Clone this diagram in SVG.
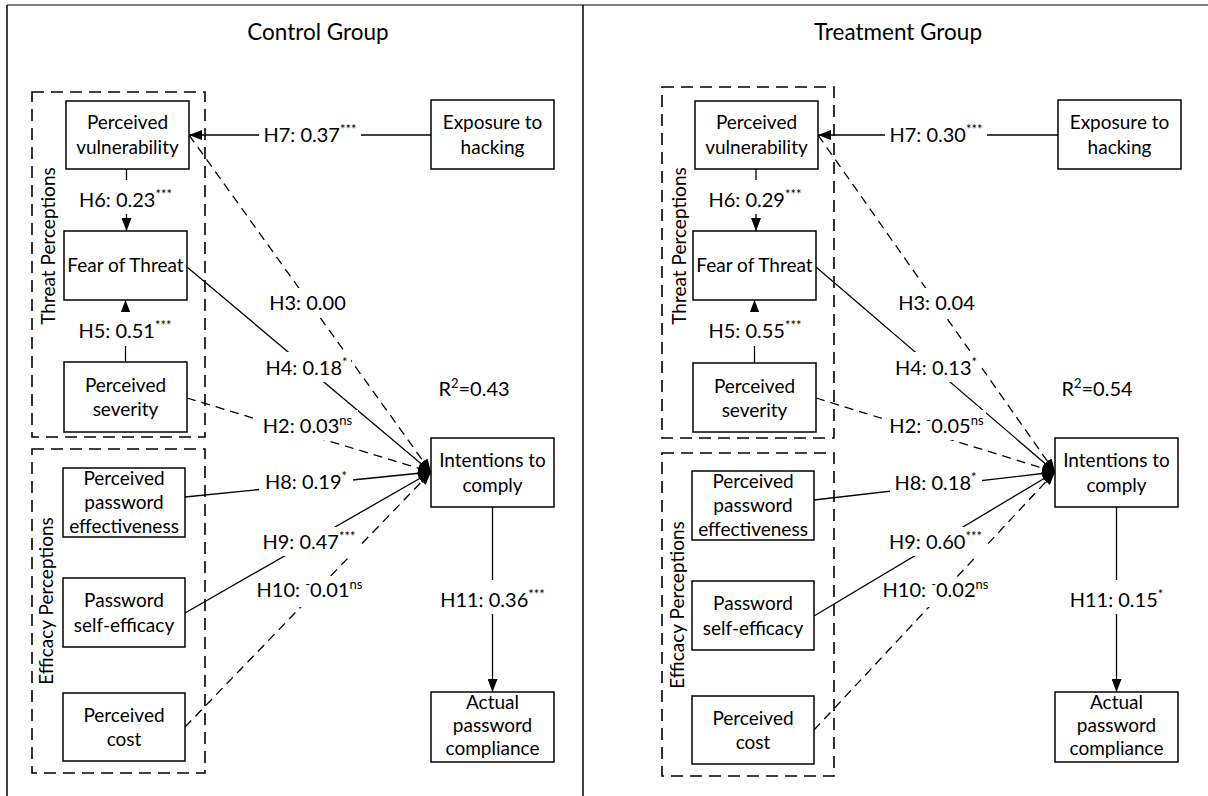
<svg xmlns="http://www.w3.org/2000/svg" width="1208" height="796" viewBox="0 0 1208 796">
<defs>
<style>
.box{fill:#fff;stroke:#000;stroke-width:1.5}
.grp{fill:none;stroke:#000;stroke-width:1.6;stroke-dasharray:12 7}
.t{font-family:Lato,"Liberation Sans",sans-serif;font-size:20px;fill:#000}
.n{font-size:19px}
.ttl{font-size:22.5px}
.c{text-anchor:middle}
.ln{stroke:#000;stroke-width:1.3;fill:none}
.dl{stroke-dasharray:9 6}
.bg{fill:#fff}
.sup{font-size:13px}
.frame{stroke:#000;stroke-width:1.5;fill:none}
</style>
<marker id="arr" viewBox="0 0 13 10" refX="13" refY="5" markerWidth="13" markerHeight="10" markerUnits="userSpaceOnUse" orient="auto">
<path d="M0,0 L13,5 L0,10 z" fill="#000"/>
</marker>
</defs>
<rect width="1208" height="796" fill="#fff"/>
<g id="frame">
<line x1="7" y1="5" x2="1208" y2="5" stroke="#808080" stroke-width="2"/>
<line class="frame" x1="7" y1="5" x2="7" y2="796"/>
<line class="frame" x1="583" y1="5" x2="583" y2="796"/>
<text class="t ttl c" x="318" y="40">Control Group</text>
<text class="t ttl c" x="898" y="40">Treatment Group</text>
</g>

<!-- LEFT PANEL -->
<g id="c-groups">
<rect class="grp" x="32" y="92" width="173" height="345"/>
<text class="t n c" transform="translate(55,246) rotate(-90)">Threat Perceptions</text>
<rect class="grp" x="32" y="449" width="173" height="324"/>
<text class="t n c" transform="translate(53,601) rotate(-90)">Efficacy Perceptions</text>
</g>
<g id="c-connectors">
<line class="ln" x1="431" y1="135" x2="189" y2="135" marker-end="url(#arr)"/>
<line class="ln" x1="126.5" y1="169" x2="126.5" y2="231" marker-end="url(#arr)"/>
<line class="ln" x1="125.5" y1="362" x2="125.5" y2="300" marker-end="url(#arr)"/>
<line class="ln dl" x1="189" y1="135" x2="431" y2="472" marker-end="url(#arr)"/>
<line class="ln" x1="187" y1="267" x2="431" y2="472" marker-end="url(#arr)"/>
<line class="ln dl" x1="187" y1="398" x2="431" y2="472" marker-end="url(#arr)"/>
<line class="ln" x1="185" y1="497" x2="431" y2="472" marker-end="url(#arr)"/>
<line class="ln" x1="185" y1="613" x2="431" y2="472" marker-end="url(#arr)"/>
<line class="ln dl" x1="185" y1="727" x2="431" y2="472" marker-end="url(#arr)"/>
<line class="ln" x1="492.5" y1="507" x2="492.5" y2="692" marker-end="url(#arr)"/>
</g>
<g id="c-labels">
<rect class="bg" x="259" y="122" width="102" height="26"/>
<text class="t c" x="310" y="142">H7: 0.37<tspan class="sup" dy="-8">***</tspan></text>
<rect class="bg" x="74" y="180" width="103" height="34"/>
<text class="t c" x="125.5" y="207">H6: 0.23<tspan class="sup" dy="-8">***</tspan></text>
<rect class="bg" x="74" y="312" width="103" height="34"/>
<text class="t c" x="125" y="338">H5: 0.51<tspan class="sup" dy="-8">***</tspan></text>
<rect class="bg" x="265" y="288" width="86" height="30"/>
<text class="t c" x="307.5" y="310">H3: 0.00</text>
<rect class="bg" x="261" y="352" width="90" height="30"/>
<text class="t c" x="306.5" y="375">H4: 0.18<tspan class="sup" dy="-8">*</tspan></text>
<rect class="bg" x="257" y="410" width="101" height="30"/>
<text class="t c" x="307.5" y="433">H2: 0.03<tspan class="sup" dy="-8">ns</tspan></text>
<text class="t c" x="474" y="396">R<tspan class="sup" dy="-8">2</tspan><tspan dy="8">=0.43</tspan></text>
<rect class="bg" x="259" y="468" width="94" height="28"/>
<text class="t c" x="306" y="489">H8: 0.19<tspan class="sup" dy="-8">*</tspan></text>
<rect class="bg" x="257" y="527" width="104" height="29"/>
<text class="t c" x="309" y="549">H9: 0.47<tspan class="sup" dy="-8">***</tspan></text>
<rect class="bg" x="254" y="577" width="111" height="30"/>
<text class="t c" x="309.5" y="597">H10: <tspan class="sup" dy="-8">-</tspan><tspan dy="8">0.01</tspan><tspan class="sup" dy="-8">ns</tspan></text>
<rect class="bg" x="435" y="580" width="115" height="34"/>
<text class="t c" x="492.5" y="607">H11: 0.36<tspan class="sup" dy="-8">***</tspan></text>
</g>
<g id="c-vulnerability"><rect class="box" x="66" y="101" width="123" height="68"/><text class="t n c" x="127.5" y="129">Perceived</text><text class="t n c" x="127.5" y="154">vulnerability</text></g>
<g id="c-exposure"><rect class="box" x="431" y="100" width="123" height="69"/><text class="t n c" x="492.5" y="129">Exposure to</text><text class="t n c" x="492.5" y="154">hacking</text></g>
<g id="c-fear"><rect class="box" x="64" y="231" width="123" height="69"/><text class="t n c" x="125.5" y="272">Fear of Threat</text></g>
<g id="c-severity"><rect class="box" x="64" y="362" width="123" height="70"/><text class="t n c" x="125.5" y="392">Perceived</text><text class="t n c" x="125.5" y="416">severity</text></g>
<g id="c-effectiveness"><rect class="box" x="63" y="468" width="122" height="69"/><text class="t n c" x="124" y="485">Perceived</text><text class="t n c" x="124" y="509">password</text><text class="t n c" x="124" y="533">effectiveness</text></g>
<g id="c-selfefficacy"><rect class="box" x="63" y="578" width="122" height="69"/><text class="t n c" x="124" y="607">Password</text><text class="t n c" x="124" y="632">self-efficacy</text></g>
<g id="c-cost"><rect class="box" x="63" y="693" width="122" height="68"/><text class="t n c" x="124" y="722">Perceived</text><text class="t n c" x="124" y="746">cost</text></g>
<g id="c-intentions"><rect class="box" x="431" y="438" width="123" height="69"/><text class="t n c" x="492.5" y="467">Intentions to</text><text class="t n c" x="492.5" y="492">comply</text></g>
<g id="c-actual"><rect class="box" x="431" y="692" width="123" height="70"/><text class="t n c" x="492.5" y="709">Actual</text><text class="t n c" x="492.5" y="732">password</text><text class="t n c" x="492.5" y="755">compliance</text></g>

<!-- RIGHT PANEL -->
<g id="t-groups">
<rect class="grp" x="662" y="87" width="172" height="351"/>
<text class="t n c" transform="translate(686,246) rotate(-90)">Threat Perceptions</text>
<rect class="grp" x="662" y="453" width="172" height="323"/>
<text class="t n c" transform="translate(684,605) rotate(-90)">Efficacy Perceptions</text>
</g>
<g id="t-connectors">
<line class="ln" x1="1058" y1="135" x2="818" y2="135" marker-end="url(#arr)"/>
<line class="ln" x1="756" y1="169" x2="756" y2="231" marker-end="url(#arr)"/>
<line class="ln" x1="754.5" y1="363" x2="754.5" y2="300" marker-end="url(#arr)"/>
<line class="ln dl" x1="818" y1="135" x2="1055" y2="472" marker-end="url(#arr)"/>
<line class="ln" x1="816" y1="267" x2="1055" y2="472" marker-end="url(#arr)"/>
<line class="ln dl" x1="816" y1="398" x2="1055" y2="472" marker-end="url(#arr)"/>
<line class="ln" x1="814" y1="500" x2="1055" y2="472" marker-end="url(#arr)"/>
<line class="ln" x1="814" y1="616" x2="1055" y2="472" marker-end="url(#arr)"/>
<line class="ln dl" x1="814" y1="730" x2="1055" y2="472" marker-end="url(#arr)"/>
<line class="ln" x1="1116.5" y1="507" x2="1116.5" y2="692" marker-end="url(#arr)"/>
</g>
<g id="t-labels">
<rect class="bg" x="885" y="122" width="102" height="26"/>
<text class="t c" x="936" y="142">H7: 0.30<tspan class="sup" dy="-8">***</tspan></text>
<rect class="bg" x="704" y="180" width="103" height="34"/>
<text class="t c" x="755" y="207">H6: 0.29<tspan class="sup" dy="-8">***</tspan></text>
<rect class="bg" x="704" y="312" width="103" height="34"/>
<text class="t c" x="755" y="338">H5: 0.55<tspan class="sup" dy="-8">***</tspan></text>
<rect class="bg" x="896" y="288" width="82" height="30"/>
<text class="t c" x="936.5" y="310">H3: 0.04</text>
<rect class="bg" x="892" y="352" width="88" height="30"/>
<text class="t c" x="936" y="375">H4: 0.13<tspan class="sup" dy="-8">*</tspan></text>
<rect class="bg" x="887" y="410" width="99" height="30"/>
<text class="t c" x="936.5" y="433">H2: <tspan class="sup" dy="-8">-</tspan><tspan dy="8">0.05</tspan><tspan class="sup" dy="-8">ns</tspan></text>
<text class="t c" x="1097" y="396">R<tspan class="sup" dy="-8">2</tspan><tspan dy="8">=0.54</tspan></text>
<rect class="bg" x="890" y="469" width="92" height="28"/>
<text class="t c" x="935.5" y="490">H8: 0.18<tspan class="sup" dy="-8">*</tspan></text>
<rect class="bg" x="884" y="527" width="103" height="29"/>
<text class="t c" x="935.5" y="549">H9: 0.60<tspan class="sup" dy="-8">***</tspan></text>
<rect class="bg" x="880" y="577" width="111" height="30"/>
<text class="t c" x="935.5" y="597">H10: <tspan class="sup" dy="-8">-</tspan><tspan dy="8">0.02</tspan><tspan class="sup" dy="-8">ns</tspan></text>
<rect class="bg" x="1067" y="580" width="99" height="34"/>
<text class="t c" x="1116.5" y="607">H11: 0.15<tspan class="sup" dy="-8">*</tspan></text>
</g>
<g id="t-vulnerability"><rect class="box" x="695" y="101" width="123" height="68"/><text class="t n c" x="756.5" y="129">Perceived</text><text class="t n c" x="756.5" y="154">vulnerability</text></g>
<g id="t-exposure"><rect class="box" x="1058" y="100" width="123" height="69"/><text class="t n c" x="1119.5" y="129">Exposure to</text><text class="t n c" x="1119.5" y="154">hacking</text></g>
<g id="t-fear"><rect class="box" x="693" y="231" width="123" height="69"/><text class="t n c" x="754.5" y="272">Fear of Threat</text></g>
<g id="t-severity"><rect class="box" x="693" y="363" width="123" height="69"/><text class="t n c" x="754.5" y="393">Perceived</text><text class="t n c" x="754.5" y="417">severity</text></g>
<g id="t-effectiveness"><rect class="box" x="692" y="471" width="122" height="69"/><text class="t n c" x="753" y="488">Perceived</text><text class="t n c" x="753" y="512">password</text><text class="t n c" x="753" y="536">effectiveness</text></g>
<g id="t-selfefficacy"><rect class="box" x="692" y="581" width="122" height="69"/><text class="t n c" x="753" y="610">Password</text><text class="t n c" x="753" y="635">self-efficacy</text></g>
<g id="t-cost"><rect class="box" x="692" y="696" width="122" height="68"/><text class="t n c" x="753" y="725">Perceived</text><text class="t n c" x="753" y="749">cost</text></g>
<g id="t-intentions"><rect class="box" x="1055" y="438" width="123" height="69"/><text class="t n c" x="1116.5" y="467">Intentions to</text><text class="t n c" x="1116.5" y="492">comply</text></g>
<g id="t-actual"><rect class="box" x="1055" y="692" width="123" height="70"/><text class="t n c" x="1116.5" y="709">Actual</text><text class="t n c" x="1116.5" y="732">password</text><text class="t n c" x="1116.5" y="755">compliance</text></g>
</svg>
